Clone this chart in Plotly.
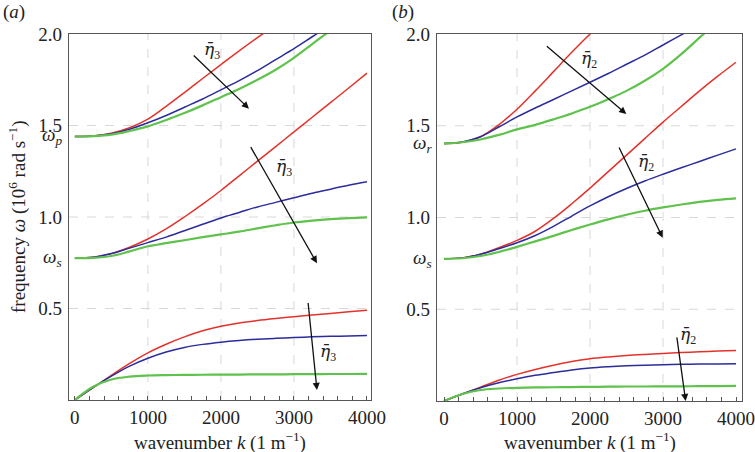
import plotly.graph_objects as go

# ---------------- data ----------------
K = [0, 250, 500, 750, 1000, 1250, 1500, 1750, 2000, 2250, 2500, 2750, 3000, 3250, 3500, 3750, 4000]
X_TICKS = [0, 1000, 2000, 3000, 4000]
Y_TICKS = [0.5, 1.0, 1.5, 2.0]
Y_TICKTEXT = ["0.5", "1.0", "1.5", "2.0"]

# panel (a)
omega_p = 1.44
omega_s_a = 0.775
a_top_red = [1.44, 1.443, 1.458, 1.488, 1.535, 1.605, 1.68, 1.757, 1.833, 1.908, 1.98, 2.05]
a_top_blue = [1.44, 1.443, 1.455, 1.48, 1.515, 1.555, 1.60, 1.645, 1.695, 1.745, 1.80, 1.86, 1.92, 1.985, 2.05]
a_top_green = [1.44, 1.442, 1.45, 1.47, 1.495, 1.53, 1.568, 1.61, 1.655, 1.70, 1.75, 1.805, 1.87, 1.945, 2.02, 2.10]
a_mid_red = [0.775, 0.78, 0.80, 0.835, 0.88, 0.935, 1.0, 1.07, 1.145, 1.225, 1.305, 1.385, 1.465, 1.545, 1.625, 1.705, 1.786]
a_mid_blue = [0.775, 0.78, 0.80, 0.83, 0.86, 0.89, 0.925, 0.96, 0.995, 1.025, 1.055, 1.08, 1.105, 1.13, 1.152, 1.173, 1.192]
a_mid_green = [0.775, 0.777, 0.787, 0.812, 0.84, 0.857, 0.873, 0.89, 0.905, 0.92, 0.938, 0.955, 0.97, 0.98, 0.988, 0.994, 0.998]
a_bot_red = [0.0, 0.068, 0.135, 0.20, 0.258, 0.305, 0.345, 0.378, 0.403, 0.421, 0.434, 0.445, 0.455, 0.464, 0.473, 0.482, 0.49]
a_bot_blue = [0.0, 0.068, 0.13, 0.185, 0.228, 0.262, 0.287, 0.304, 0.316, 0.325, 0.332, 0.337, 0.341, 0.345, 0.348, 0.35, 0.352]
a_bot_green = [0.0, 0.072, 0.112, 0.128, 0.134, 0.136, 0.137, 0.138, 0.139, 0.139, 0.14, 0.14, 0.141, 0.141, 0.142, 0.142, 0.143]

# panel (b)
omega_r = 1.403
omega_s_b = 0.775
b_top_red = [1.403, 1.41, 1.44, 1.505, 1.59, 1.69, 1.795, 1.90, 2.0, 2.095]
b_top_blue = [1.403, 1.412, 1.44, 1.493, 1.548, 1.597, 1.643, 1.69, 1.737, 1.785, 1.835, 1.885, 1.94, 1.995, 2.05]
b_top_green = [1.403, 1.41, 1.425, 1.45, 1.48, 1.505, 1.535, 1.567, 1.603, 1.645, 1.69, 1.745, 1.81, 1.89, 1.98, 2.07]
b_mid_red = [0.775, 0.78, 0.80, 0.835, 0.875, 0.925, 0.995, 1.075, 1.16, 1.25, 1.34, 1.43, 1.52, 1.605, 1.69, 1.77, 1.846]
b_mid_blue = [0.775, 0.78, 0.80, 0.83, 0.862, 0.902, 0.952, 1.008, 1.063, 1.113, 1.158, 1.199, 1.236, 1.271, 1.305, 1.34, 1.374]
b_mid_green = [0.775, 0.778, 0.79, 0.812, 0.84, 0.87, 0.90, 0.932, 0.962, 0.99, 1.015, 1.037, 1.055, 1.071, 1.085, 1.096, 1.104]
b_bot_red = [0.0, 0.038, 0.075, 0.113, 0.145, 0.172, 0.195, 0.215, 0.23, 0.24, 0.248, 0.254, 0.259, 0.264, 0.268, 0.272, 0.275]
b_bot_blue = [0.0, 0.038, 0.072, 0.099, 0.121, 0.14, 0.155, 0.169, 0.18, 0.187, 0.192, 0.195, 0.198, 0.2, 0.201, 0.202, 0.203]
b_bot_green = [0.0, 0.038, 0.06, 0.068, 0.072, 0.074, 0.075, 0.076, 0.077, 0.078, 0.079, 0.079, 0.08, 0.08, 0.081, 0.081, 0.082]

RED = "#e4322b"
BLUE = "#2c2c9c"
GREEN = "#5fc24c"
FONT = "Liberation Serif, Times New Roman, serif"
FS = 19
W, H = 755, 452


def px(x):
    return x / W


def py(y):
    return 1 - y / H


fig = go.Figure()

series = [
    ("x", "y", a_top_red, RED, 1.5), ("x", "y", a_top_blue, BLUE, 1.5), ("x", "y", a_top_green, GREEN, 2.2),
    ("x", "y", a_mid_red, RED, 1.5), ("x", "y", a_mid_blue, BLUE, 1.5), ("x", "y", a_mid_green, GREEN, 2.2),
    ("x", "y", a_bot_red, RED, 1.5), ("x", "y", a_bot_blue, BLUE, 1.5), ("x", "y", a_bot_green, GREEN, 2.2),
    ("x2", "y2", b_top_red, RED, 1.5), ("x2", "y2", b_top_blue, BLUE, 1.5), ("x2", "y2", b_top_green, GREEN, 2.2),
    ("x2", "y2", b_mid_red, RED, 1.5), ("x2", "y2", b_mid_blue, BLUE, 1.5), ("x2", "y2", b_mid_green, GREEN, 2.2),
    ("x2", "y2", b_bot_red, RED, 1.5), ("x2", "y2", b_bot_blue, BLUE, 1.5), ("x2", "y2", b_bot_green, GREEN, 2.2),
]
for xa, ya, vals, col, lw in series:
    fig.add_trace(go.Scatter(x=K[:len(vals)], y=vals, xaxis=xa, yaxis=ya, mode="lines",
                             line=dict(color=col, width=lw, shape="spline", smoothing=1.0),
                             showlegend=False, hoverinfo="skip"))

axis_common = dict(showline=True, linecolor="#555", linewidth=1.2, mirror=True,
                   showgrid=False, zeroline=False, automargin=False,
                   tickfont=dict(family=FONT, size=FS, color="#222"))

fig.update_layout(
    width=W, height=H, margin=dict(l=0, r=0, t=0, b=0, autoexpand=False),
    plot_bgcolor="white", paper_bgcolor="white",
    xaxis=dict(domain=[px(69), px(371)], range=[-80, 4055], tickvals=X_TICKS, ticks="inside",
               ticklen=4, tickcolor="#555", anchor="y", ticklabeloverflow="allow",
               minor=dict(dtick=200, tick0=0, ticks="inside", ticklen=4, tickcolor="#555"),
               **axis_common),
    yaxis=dict(domain=[py(400), py(34)], range=[0, 2.0], tickvals=Y_TICKS, ticktext=Y_TICKTEXT,
               ticks="", anchor="x", ticklabelstandoff=2, **axis_common),
    xaxis2=dict(domain=[px(437), px(742)], range=[-96, 4082], tickvals=X_TICKS, ticks="inside",
                ticklen=4, tickcolor="#555", anchor="y2", ticklabeloverflow="allow",
                minor=dict(dtick=200, tick0=0, ticks="inside", ticklen=4, tickcolor="#555"),
                **axis_common),
    yaxis2=dict(domain=[py(401), py(34)], range=[0, 2.0], tickvals=Y_TICKS, ticktext=Y_TICKTEXT,
                ticks="", anchor="x2", ticklabelstandoff=2, **axis_common),
)

# dashed grid
shapes = []
for xr, yr in (("x", "y"), ("x2", "y2")):
    for gx in [1000, 2000, 3000]:
        shapes.append(dict(type="line", xref=xr, yref=yr, x0=gx, x1=gx, y0=0, y1=2.0,
                           line=dict(color="#d8d8d8", width=1, dash="dash"), layer="below"))
    for gy in [0.5, 1.0, 1.5]:
        shapes.append(dict(type="line", xref=xr + " domain", yref=yr, x0=0, x1=1, y0=gy, y1=gy,
                           line=dict(color="#d8d8d8", width=1, dash="dash"), layer="below"))
fig.update_layout(shapes=shapes)

ann = []
tf = dict(family=FONT, size=FS, color="#222")
# panel labels
ann.append(dict(text="(<i>a</i>)", x=px(1), y=py(12), xref="paper", yref="paper",
                xanchor="left", yanchor="middle", showarrow=False, font=tf))
ann.append(dict(text="(<i>b</i>)", x=px(390), y=py(12), xref="paper", yref="paper",
                xanchor="left", yanchor="middle", showarrow=False, font=tf))
# omega labels
ann.append(dict(text="<i>ω</i><sub><i>p</i></sub>", x=px(64), y=omega_p, xref="paper", yref="y",
                xanchor="right", yanchor="middle", showarrow=False, font=tf))
ann.append(dict(text="<i>ω</i><sub><i>s</i></sub>", x=px(64), y=omega_s_a, xref="paper", yref="y",
                xanchor="right", yanchor="middle", showarrow=False, font=tf))
ann.append(dict(text="<i>ω</i><sub><i>r</i></sub>", x=px(434), y=omega_r, xref="paper", yref="y2",
                xanchor="right", yanchor="middle", showarrow=False, font=tf))
ann.append(dict(text="<i>ω</i><sub><i>s</i></sub>", x=px(434), y=omega_s_b, xref="paper", yref="y2",
                xanchor="right", yanchor="middle", showarrow=False, font=tf))
# axis titles
ann.append(dict(text="frequency <i>ω</i> (10<sup>6</sup> rad s<sup>−1</sup>)", x=px(17), y=py(217),
                xref="paper", yref="paper", textangle=-90, showarrow=False, font=tf,
                xanchor="center", yanchor="middle"))
for cx in (220, 590):
    ann.append(dict(text="wavenumber <i>k</i> (1 m<sup>−1</sup>)", x=px(cx), y=py(441),
                    xref="paper", yref="paper", showarrow=False, font=tf,
                    xanchor="center", yanchor="middle"))

# arrows and eta labels: (tail_k, tail_w, tip_k, tip_w, label_k, label_w, label)
arrows_a = [
    (1607, 1.89, 2384, 1.592, 1880, 1.91, "3"),
    (2397, 1.39, 3315, 0.747, 2860, 1.27, "3"),
    (3192, 0.538, 3315, 0.055, 3470, 0.26, "3"),
]
arrows_b = [
    (1388, 1.94, 2497, 1.564, 1980, 1.86, "2"),
    (2388, 1.39, 2995, 0.89, 2770, 1.30, "2"),
    (3187, 0.355, 3310, 0.0, 3340, 0.355, "2"),
]
eta = "<span style='font-family:DejaVu Serif'><i>η̄</i></span>"
for xr, yr, arrs in (("x", "y", arrows_a), ("x2", "y2", arrows_b)):
    for tk, tw, hk, hw, lk, lw_, sub in arrs:
        ann.append(dict(x=hk, y=hw, ax=tk, ay=tw, xref=xr, yref=yr, axref=xr, ayref=yr,
                        showarrow=True, arrowhead=2, arrowsize=1.1, arrowwidth=1.3,
                        arrowcolor="#111", text=""))
        ann.append(dict(text=eta + "<sub>" + sub + "</sub>", x=lk, y=lw_, xref=xr, yref=yr,
                        showarrow=False, font=dict(family=FONT, size=17, color="#222"),
                        xanchor="center", yanchor="middle"))
fig.update_layout(annotations=ann)

fig.write_html("out.html", config={"displayModeBar": False, "staticPlot": True},
               post_script="document.body.style.margin='0';document.body.style.overflow='hidden';")
